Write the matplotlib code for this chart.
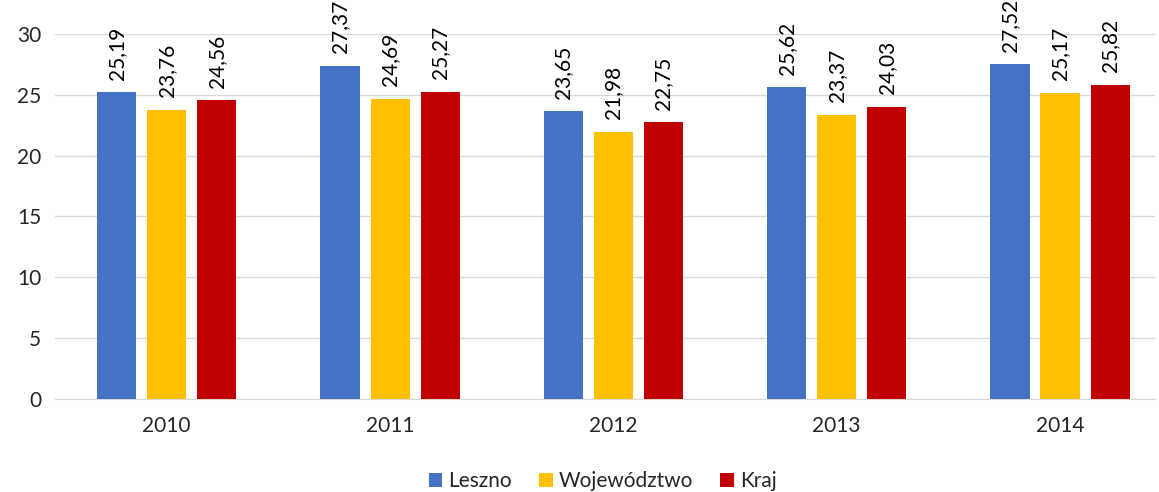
import numpy as np
import matplotlib.pyplot as plt

years = ['2010', '2011', '2012', '2013', '2014']
leszno = [25.19, 27.37, 23.65, 25.62, 27.52]
wojewodztwo = [23.76, 24.69, 21.98, 23.37, 25.17]
kraj = [24.56, 25.27, 22.75, 24.03, 25.82]

series = [('Leszno', leszno, '#4472C4'),
          ('Województwo', wojewodztwo, '#FFC000'),
          ('Kraj', kraj, '#C00000')]

plt.rcParams['font.family'] = ['Lato', 'DejaVu Sans']

fig = plt.figure(figsize=(11.59, 4.92), dpi=100)
ax = fig.add_axes([0.0475, 0.189, 0.949, 0.742])

x = np.arange(len(years))
width = 0.175
step = 0.224

for i, (name, vals, color) in enumerate(series):
    pos = x + (i - 1) * step
    ax.bar(pos, vals, width, color=color, label=name, zorder=3)
    for px, v in zip(pos, vals):
        ax.annotate(f'{v:.2f}'.replace('.', ','), (px, v), xytext=(0, 9),
                    textcoords='offset points', rotation=90, ha='center', va='bottom',
                    fontsize=15, color='#000000')

ax.set_xlim(-0.5, 4.425)
ax.set_ylim(0, 30)
ax.set_yticks(range(0, 31, 5))
ax.set_xticks(x)
ax.set_xticklabels(years)
ax.tick_params(axis='both', length=0, labelsize=15, colors='#262626')
ax.tick_params(axis='x', pad=12)
ax.tick_params(axis='y', pad=10)
ax.grid(axis='y', color='#D9D9D9', linewidth=1, zorder=0)
for s in ['top', 'right', 'left']:
    ax.spines[s].set_visible(False)
ax.spines['bottom'].set_color('#D9D9D9')

handles, labels = ax.get_legend_handles_labels()
fig.legend(handles, labels, loc='center', bbox_to_anchor=(0.52, 0.022), ncol=3, frameon=False,
           fontsize=15, handlelength=0.65, handleheight=0.65, handletextpad=0.3,
           columnspacing=1.3, labelcolor='#262626', borderpad=0)

fig.savefig('out.png', dpi=100)
